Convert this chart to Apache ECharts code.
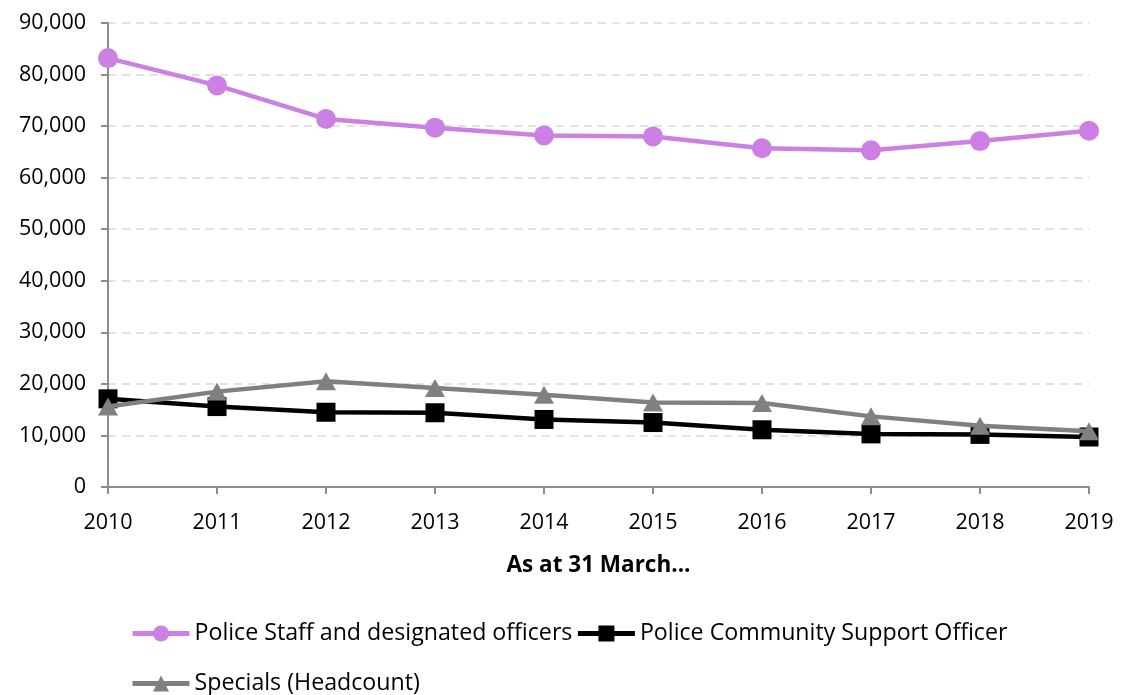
<!DOCTYPE html>
<html>
<head>
<meta charset="utf-8">
<script src="https://cdn.jsdelivr.net/npm/echarts@6/dist/echarts.min.js"></script>
<style>
  html, body { margin: 0; padding: 0; background: #fff; }
  #chart { width: 1121px; height: 695px; }
</style>
</head>
<body>
<div id="chart"></div>
<script>
// Workforce as at 31 March each year
const years = ['2010', '2011', '2012', '2013', '2014', '2015', '2016', '2017', '2018', '2019'];
const policeStaff = [83200, 77900, 71400, 69700, 68200, 68000, 65700, 65300, 67100, 69100];
const pcso = [17100, 15600, 14500, 14400, 13100, 12500, 11100, 10300, 10200, 9700];
const specials = [15600, 18500, 20500, 19200, 17900, 16400, 16300, 13700, 11900, 10800];

const seriesNames = ['Police Staff and designated officers', 'Police Community Support Officer', 'Specials (Headcount)'];
const FONT = '"Open Sans", Lato, sans-serif';

const chart = echarts.init(document.getElementById('chart'));

const legendText = { fontFamily: FONT, fontSize: 23.2, color: '#000' };
const legendLine = { width: 5 };

chart.setOption({
  animation: false,
  grid: { left: 108, right: 32, top: 23, bottom: 208, containLabel: false },
  legend: [
    {
      data: [seriesNames[0], seriesNames[1]],
      left: 130, top: 622, padding: 0,
      itemWidth: 57, itemHeight: 20, itemGap: 3,
      lineStyle: legendLine,
      textStyle: legendText
    },
    {
      data: [seriesNames[2]],
      left: 130, top: 672, padding: 0,
      itemWidth: 57, itemHeight: 20,
      lineStyle: legendLine,
      textStyle: legendText
    }
  ],
  xAxis: {
    type: 'category',
    data: years,
    boundaryGap: false,
    name: 'As at 31 March...',
    nameLocation: 'middle',
    nameGap: 67,
    nameTextStyle: { fontFamily: FONT, fontSize: 22.5, fontWeight: 'bold', color: '#000' },
    axisLine: { lineStyle: { color: '#8c8c8c', width: 2 } },
    axisTick: { show: true, alignWithLabel: true, length: 7, lineStyle: { color: '#8c8c8c', width: 2 } },
    axisLabel: { fontFamily: FONT, fontSize: 21.5, color: '#000', margin: 25 },
    splitLine: { show: false }
  },
  yAxis: {
    type: 'value',
    min: 0, max: 90000, interval: 10000,
    axisLine: { show: true, lineStyle: { color: '#8c8c8c', width: 2 } },
    axisTick: { show: true, length: 7, lineStyle: { color: '#8c8c8c', width: 2 } },
    axisLabel: {
      fontFamily: FONT, fontSize: 21.5, color: '#000', margin: 22,
      formatter: v => v.toLocaleString('en-GB')
    },
    splitLine: { show: true, lineStyle: { color: '#d9d9d9', type: [8, 6], width: 1.5 } }
  },
  series: [
    {
      name: seriesNames[0], type: 'line', data: policeStaff,
      symbol: 'circle', symbolSize: 20,
      lineStyle: { color: '#cc80e3', width: 4.5 },
      itemStyle: { color: '#cc80e3' },
      z: 3
    },
    {
      name: seriesNames[1], type: 'line', data: pcso,
      symbol: 'rect', symbolSize: 19,
      lineStyle: { color: '#000', width: 4.5 },
      itemStyle: { color: '#000' },
      z: 2
    },
    {
      name: seriesNames[2], type: 'line', data: specials,
      symbol: 'triangle', symbolSize: [20, 18],
      lineStyle: { color: '#808080', width: 4.5 },
      itemStyle: { color: '#808080' },
      z: 4
    }
  ]
});
</script>
</body>
</html>
